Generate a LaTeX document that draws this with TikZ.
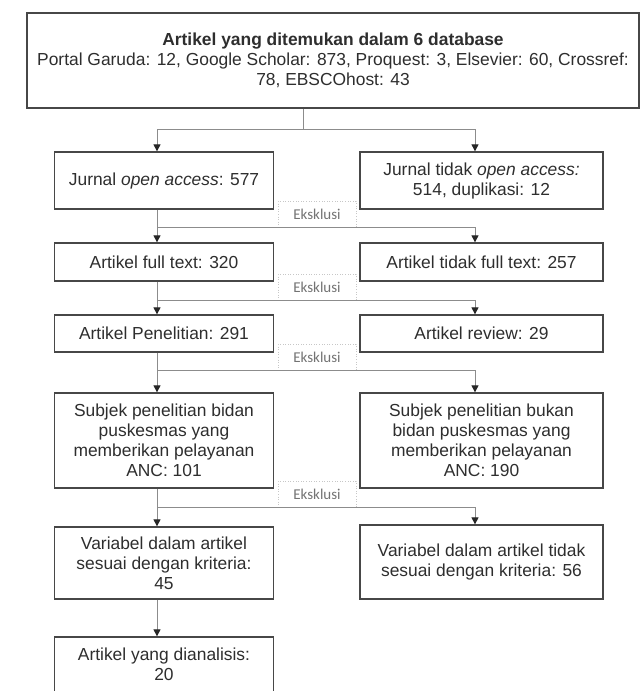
\documentclass[tikz,border=0pt]{standalone}
\usepackage{fontspec}
\setmainfont{Liberation Sans}
\newfontfamily\labfont{Carlito}
\usetikzlibrary{arrows.meta}
\begin{document}
\begin{tikzpicture}[x=1pt,y=-1pt,
  box/.style={draw=black!72, line width=1.3pt, fill=white, align=center, inner sep=0pt,
    text=black!82, font=\fontsize{17.4}{20}\selectfont},
  lbox/.style={box, minimum width=219pt},
  rbox/.style={box, minimum width=243pt},
  conn/.style={draw=black!45, line width=1pt},
  arr/.style={conn, -{Triangle[length=7pt,width=7pt,color=black!85]}},
  lab/.style={draw=black!22, dotted, line width=0.6pt, inner sep=0pt,
    minimum width=78pt, minimum height=26pt, text=black!55,
    font=\labfont\fontsize{15}{16}\selectfont}
]
\useasboundingbox[fill=white] (0,0) rectangle (641,691);

% column coordinates
\coordinate (cs) at (303,0);
\coordinate (cl) at (157,0);
\coordinate (cr) at (475,0);

% boxes
\node[box, minimum width=612pt, minimum height=95pt] (top) at (333,60.5)
  {\textbf{Artikel yang ditemukan dalam 6 database}\\
   Portal Garuda: 12, Google Scholar: 873, Proquest: 3, Elsevier: 60, Crossref:\\
   78, EBSCOhost: 43};

\node[lbox, minimum height=57pt] (L1) at (164,180.5) {Jurnal \textit{open access}: 577};
\node[rbox, minimum height=57pt] (R1) at (481.5,180.5) {Jurnal tidak \textit{open access:}\\514, duplikasi: 12};

\node[lbox, minimum height=38pt] (L2) at (164,262) {Artikel full text: 320};
\node[rbox, minimum height=38pt] (R2) at (481.5,262) {Artikel tidak full text: 257};

\node[lbox, minimum height=37pt] (L3) at (164,333.5) {Artikel Penelitian: 291};
\node[rbox, minimum height=37pt] (R3) at (481.5,333.5) {Artikel review: 29};

\node[lbox, minimum height=95pt] (L4) at (164,440.5)
  {Subjek penelitian bidan\\puskesmas yang\\memberikan pelayanan\\ANC: 101};
\node[rbox, minimum height=95pt] (R4) at (481.5,440.5)
  {Subjek penelitian bukan\\bidan puskesmas yang\\memberikan pelayanan\\ANC: 190};

\node[lbox, minimum height=72pt] (L5) at (164,563)
  {Variabel dalam artikel\\sesuai dengan kriteria:\\45};
\node[rbox, minimum height=74pt] (R5) at (481.5,562)
  {Variabel dalam artikel tidak\\sesuai dengan kriteria: 56};

\node[lbox, minimum height=55pt] (L6) at (164,664.5)
  {Artikel yang dianalisis:\\20};

% exclusion labels
\node[lab] (e1) at (317,214) {Eksklusi};
\node[lab] (e2) at (317,287) {Eksklusi};
\node[lab] (e3) at (317,357) {Eksklusi};
\node[lab] (e4) at (317,494) {Eksklusi};

% junctions
\coordinate (j0) at (303,129);
\coordinate (j1) at (157,227);
\coordinate (j2) at (157,300);
\coordinate (j3) at (157,370);
\coordinate (j4) at (157,507);

% connectors
\draw[conn] (top.south -| cs) -- (j0);
\draw[arr] (j0) -| (L1.north -| cl);
\draw[arr] (j0) -| (R1.north -| cr);

\draw[arr] (L1.south -| cl) -- (L2.north -| cl);
\draw[arr] (j1) -| (R2.north -| cr);

\draw[arr] (L2.south -| cl) -- (L3.north -| cl);
\draw[arr] (j2) -| (R3.north -| cr);

\draw[arr] (L3.south -| cl) -- (L4.north -| cl);
\draw[arr] (j3) -| (R4.north -| cr);

\draw[arr] (L4.south -| cl) -- (L5.north -| cl);
\draw[arr] (j4) -| (R5.north -| cr);

\draw[arr] (L5.south -| cl) -- (L6.north -| cl);
\end{tikzpicture}
\end{document}
